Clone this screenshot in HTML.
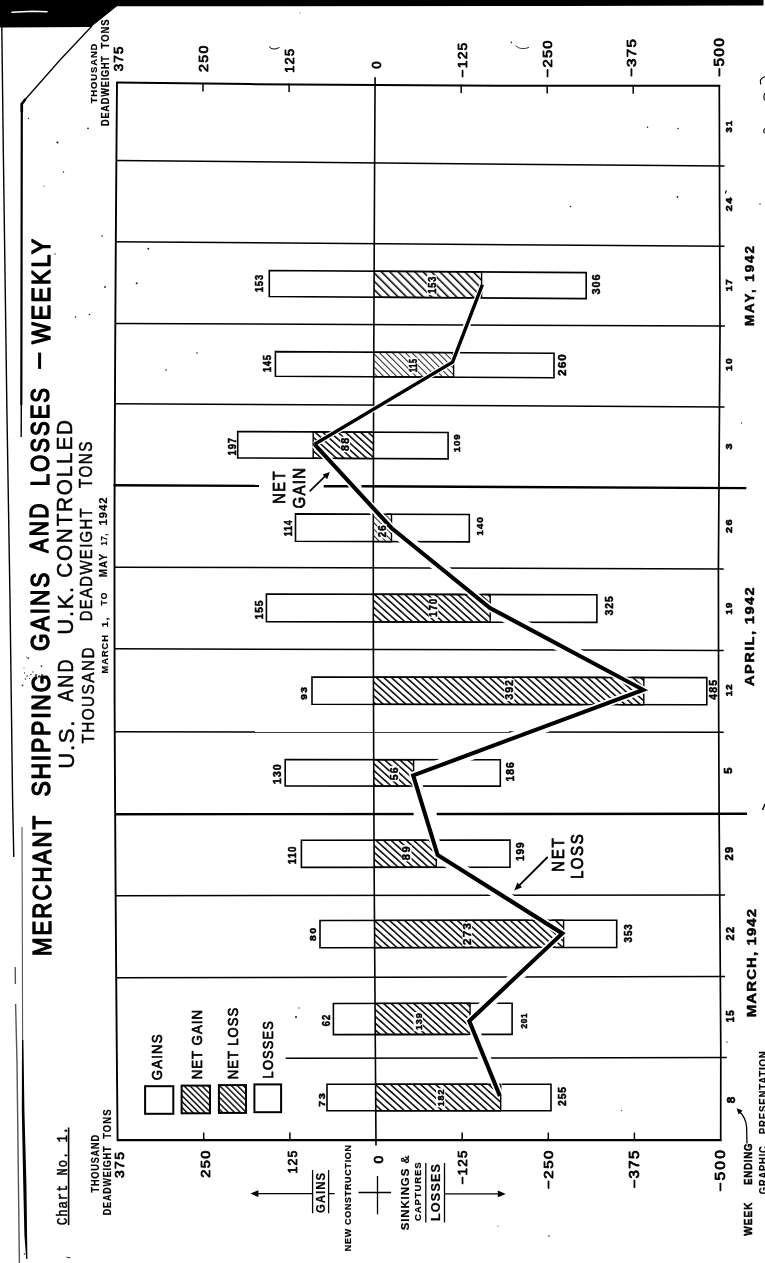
<!DOCTYPE html>
<html lang="en"><head><meta charset="utf-8">
<title>Merchant Shipping Gains and Losses - Weekly</title>
<style>
html,body{margin:0;padding:0;background:#fff;}
body{width:765px;height:1263px;overflow:hidden;}
svg{display:block;}
text{fill:#000;white-space:pre;}
.s{font-family:"Liberation Sans",sans-serif;}
.m{font-family:"Liberation Mono",monospace;}
.b{font-weight:bold;}
</style></head><body>
<svg width="765" height="1263" viewBox="0 0 765 1263">
<defs>
<pattern id="h1" width="5.05" height="8" patternUnits="userSpaceOnUse" patternTransform="rotate(-48)"><rect x="0" y="0" width="1.5" height="8" fill="#000"/></pattern>
<pattern id="h2" width="4.6" height="8" patternUnits="userSpaceOnUse" patternTransform="rotate(-45)"><rect x="0" y="0" width="1" height="8" fill="#222"/></pattern>
<pattern id="h3" width="4.2" height="8" patternUnits="userSpaceOnUse" patternTransform="rotate(-45)"><rect x="0" y="0" width="1.4" height="8" fill="#000"/></pattern>
<pattern id="h4" width="5.9" height="8" patternUnits="userSpaceOnUse" patternTransform="rotate(-45)"><rect x="0" y="0" width="1.5" height="8" fill="#000"/></pattern>
</defs>
<rect x="0" y="0" width="765" height="1263" fill="#fff"/>
<polygon points="0,0 763.5,0 763.5,5.6 560,5.9 117,6.3 91,27 0,27.5" fill="#000"/>
<path d="M12,12.3 L33,11.2 L47,11.8" stroke="#fff" stroke-width="1.6" fill="none" stroke-linecap="round"/>
<path d="M92,26 L60,60 L23,102" stroke="#000" stroke-width="1.3" fill="none"/>
<path d="M25.5,99 L21.8,104 L21.8,112" stroke="#000" stroke-width="2.6" fill="none"/>
<path d="M21.8,103 L21.5,300 L21.3,405" stroke="#000" stroke-width="2.2" fill="none"/>
<path d="M21.3,405 L21.2,437" stroke="#000" stroke-width="1.4" fill="none"/>
<path d="M1.8,27 L3.3,150 L6.9,410 L10,600 L12.6,800 L13.8,857" stroke="#000" stroke-width="1.4" fill="none"/>
<path d="M15.2,967 L15.4,984 M15.6,1004 L17,1063 L19.4,1263" stroke="#555" stroke-width="1.4" fill="none"/>
<path d="M22,827 L22.4,950 L22.6,1040" stroke="#555" stroke-width="1.1" fill="none"/>
<polygon points="22,1040 23.4,1040 24.4,1110 26.4,1183 27.4,1259 26.2,1259 24.4,1235 23.2,1183 21.8,1110" fill="#000"/>
<path d="M66.5,1257.2 L70.5,1257.8" stroke="#333" stroke-width="1" fill="none"/>
<line x1="116.4" y1="160.6" x2="724.5" y2="166.1" stroke="#000" stroke-width="1.5"/>
<line x1="115.8" y1="241.8" x2="724.5" y2="246.3" stroke="#000" stroke-width="1.5"/>
<line x1="115.3" y1="323.4" x2="725" y2="326.1" stroke="#000" stroke-width="1.5"/>
<line x1="114.9" y1="403.8" x2="724.5" y2="407" stroke="#000" stroke-width="1.5"/>
<line x1="114.5" y1="567.2" x2="723.7" y2="569" stroke="#000" stroke-width="1.5"/>
<line x1="114.5" y1="648.8" x2="723.7" y2="650.4" stroke="#000" stroke-width="1.5"/>
<line x1="114.7" y1="731.8" x2="723.7" y2="732.3" stroke="#000" stroke-width="1.5"/>
<line x1="115.1" y1="814.3" x2="747" y2="813.7" stroke="#000" stroke-width="2.4"/>
<line x1="115.6" y1="895.7" x2="725" y2="895" stroke="#000" stroke-width="1.5"/>
<line x1="116.2" y1="977.8" x2="725" y2="976.5" stroke="#000" stroke-width="1.5"/>
<line x1="285.6" y1="1058.2" x2="726.8" y2="1057.6" stroke="#000" stroke-width="1.5"/>
<polygon points="269.3,270.5 586.2,272.6 586.2,298.6 269.3,296.5" fill="#fff" stroke="#000" stroke-width="1.6"/>
<polygon points="275.4,351.6 554,353.2 554,377.8 275.4,376.2" fill="#fff" stroke="#000" stroke-width="1.6"/>
<polygon points="237.7,431.5 448.1,432.5 448.1,458.9 237.7,457.9" fill="#fff" stroke="#000" stroke-width="1.6"/>
<polygon points="295.5,513.9 469.3,514.5 469.3,541.9 295.5,541.3" fill="#fff" stroke="#000" stroke-width="1.6"/>
<polygon points="266.4,594 596.9,594.8 596.9,622.4 266.4,621.6" fill="#fff" stroke="#000" stroke-width="1.6"/>
<polygon points="312,677 706.8,677.6 706.8,704.8 312,704.2" fill="#fff" stroke="#000" stroke-width="1.6"/>
<polygon points="285.2,759.6 500.3,759.7 500.3,786.1 285.2,786" fill="#fff" stroke="#000" stroke-width="1.6"/>
<polygon points="301.4,840.2 510,840 510,867.2 301.4,867.4" fill="#fff" stroke="#000" stroke-width="1.6"/>
<polygon points="320,920.5 616.7,920.2 616.7,947.4 320,947.7" fill="#fff" stroke="#000" stroke-width="1.6"/>
<polygon points="333.4,1003.5 512.1,1003.3 512.1,1034.4 333.4,1034.6" fill="#fff" stroke="#000" stroke-width="1.6"/>
<polygon points="327,1084.3 551,1084.2 551,1110.7 327,1110.8" fill="#fff" stroke="#000" stroke-width="1.6"/>
<polyline points="499.9,1096 469.3,1021 562.3,933.4 437.6,855 413.2,775.4 643.2,689.8 490,608 391.5,528 314.6,444.3" fill="none" stroke="#fff" stroke-width="12.5" stroke-linejoin="round"/>
<rect x="413.6" y="811" width="23.1" height="7" fill="#fff"/>
<polyline points="314.6,444.3 452.6,362.2 482.4,284.7" fill="none" stroke="#fff" stroke-width="7" stroke-linejoin="round"/>
<path d="M117,82.6 L116.3,170.7 L115.7,258.9 L115.2,347 L114.8,435.1 L114.5,523.2 L114.5,611.4 L114.6,699.5 L115,787.6 L115.5,875.7 L116.1,963.9 L116.8,1052 L117.6,1140.1" stroke="#000" stroke-width="1.9" fill="none"/>
<path d="M719.3,85 L719.6,200 L720,330 L719.2,450 L718.4,570 L718.6,700 L719.1,810 L720,930 L720.8,1050 L720.7,1141" stroke="#000" stroke-width="1.7" fill="none" stroke-linejoin="round"/>
<path d="M116.2,82.6 L250,84.1 L376,85.1 L500,85.8 L720.2,85.8" stroke="#000" stroke-width="2" fill="none" stroke-linejoin="round"/>
<line x1="116.7" y1="1140.1" x2="721.4" y2="1140.1" stroke="#000" stroke-width="2.2"/>
<path d="M375.1,77.2 L374.6,166.2 L374.2,255.3 L373.8,344.3 L373.5,433.3 L373.3,522.4 L373.3,611.4 L373.5,700.4 L373.8,789.5 L374.2,878.5 L374.8,967.5 L375.4,1056.6 L376,1145.6" stroke="#000" stroke-width="1.6" fill="none"/>
<line x1="113.6" y1="485.2" x2="259" y2="485.9" stroke="#000" stroke-width="2.4"/>
<line x1="323.7" y1="486.2" x2="349.5" y2="486.3" stroke="#000" stroke-width="2.4"/>
<line x1="361.5" y1="486.3" x2="746.3" y2="488.1" stroke="#000" stroke-width="2.4"/>
<line x1="203" y1="83.1" x2="203" y2="91.6" stroke="#000" stroke-width="1.5"/>
<line x1="203.7" y1="1140" x2="203.7" y2="1132.6" stroke="#000" stroke-width="1.5"/>
<line x1="289.1" y1="83.5" x2="289.1" y2="92" stroke="#000" stroke-width="1.5"/>
<line x1="289.9" y1="1140" x2="289.9" y2="1132.6" stroke="#000" stroke-width="1.5"/>
<line x1="461.2" y1="84.4" x2="461.2" y2="92.9" stroke="#000" stroke-width="1.5"/>
<line x1="462.2" y1="1140" x2="462.2" y2="1132.6" stroke="#000" stroke-width="1.5"/>
<line x1="547.2" y1="84.9" x2="547.2" y2="93.4" stroke="#000" stroke-width="1.5"/>
<line x1="548.3" y1="1140" x2="548.3" y2="1132.6" stroke="#000" stroke-width="1.5"/>
<line x1="633.2" y1="85.3" x2="633.2" y2="93.8" stroke="#000" stroke-width="1.5"/>
<line x1="634.4" y1="1140" x2="634.4" y2="1132.6" stroke="#000" stroke-width="1.5"/>
<polygon points="374,271.2 481.6,271.9 481.6,297.9 374,297.2" fill="url(#h4)" stroke="none"/>
<line x1="481.6" y1="271.9" x2="481.6" y2="297.9" stroke="#000" stroke-width="1.4"/>
<line x1="374" y1="271.2" x2="481.6" y2="271.9" stroke="#000" stroke-width="1.4"/>
<line x1="374" y1="297.2" x2="481.6" y2="297.9" stroke="#000" stroke-width="1.4"/>
<polygon points="373.7,352.1 453.6,352.6 453.6,377.2 373.7,376.7" fill="url(#h2)" stroke="none"/>
<line x1="453.6" y1="352.6" x2="453.6" y2="377.2" stroke="#000" stroke-width="1.4"/>
<line x1="373.7" y1="352.1" x2="453.6" y2="352.6" stroke="#000" stroke-width="1.4"/>
<line x1="373.7" y1="376.7" x2="453.6" y2="377.2" stroke="#000" stroke-width="1.4"/>
<polygon points="313.2,431.9 373.5,432.2 373.5,458.6 313.2,458.3" fill="url(#h1)" stroke="none"/>
<line x1="313.2" y1="431.9" x2="313.2" y2="458.3" stroke="#000" stroke-width="1.4"/>
<line x1="313.2" y1="431.9" x2="373.5" y2="432.2" stroke="#000" stroke-width="1.4"/>
<line x1="313.2" y1="458.3" x2="373.5" y2="458.6" stroke="#000" stroke-width="1.4"/>
<polygon points="373.3,514.2 391.5,514.3 391.5,541.7 373.3,541.6" fill="url(#h2)" stroke="none"/>
<line x1="391.5" y1="514.3" x2="391.5" y2="541.7" stroke="#000" stroke-width="1.4"/>
<line x1="373.3" y1="514.2" x2="391.5" y2="514.3" stroke="#000" stroke-width="1.4"/>
<line x1="373.3" y1="541.6" x2="391.5" y2="541.7" stroke="#000" stroke-width="1.4"/>
<polygon points="373.3,594.2 490.2,594.5 490.2,622.1 373.3,621.8" fill="url(#h1)" stroke="none"/>
<line x1="490.2" y1="594.5" x2="490.2" y2="622.1" stroke="#000" stroke-width="1.4"/>
<line x1="373.3" y1="594.2" x2="490.2" y2="594.5" stroke="#000" stroke-width="1.4"/>
<line x1="373.3" y1="621.8" x2="490.2" y2="622.1" stroke="#000" stroke-width="1.4"/>
<polygon points="373.5,677.1 643.8,677.5 643.8,704.7 373.5,704.3" fill="url(#h1)" stroke="none"/>
<line x1="643.8" y1="677.5" x2="643.8" y2="704.7" stroke="#000" stroke-width="1.4"/>
<line x1="373.5" y1="677.1" x2="643.8" y2="677.5" stroke="#000" stroke-width="1.4"/>
<line x1="373.5" y1="704.3" x2="643.8" y2="704.7" stroke="#000" stroke-width="1.4"/>
<polygon points="373.7,759.7 413.6,759.7 413.6,786.1 373.7,786.1" fill="url(#h1)" stroke="none"/>
<line x1="413.6" y1="759.7" x2="413.6" y2="786.1" stroke="#000" stroke-width="1.4"/>
<line x1="373.7" y1="759.7" x2="413.6" y2="759.7" stroke="#000" stroke-width="1.4"/>
<line x1="373.7" y1="786.1" x2="413.6" y2="786.1" stroke="#000" stroke-width="1.4"/>
<polygon points="374.1,840.1 436.3,840.1 436.3,867.3 374.1,867.3" fill="url(#h1)" stroke="none"/>
<line x1="436.3" y1="840.1" x2="436.3" y2="867.3" stroke="#000" stroke-width="1.4"/>
<line x1="374.1" y1="840.1" x2="436.3" y2="840.1" stroke="#000" stroke-width="1.4"/>
<line x1="374.1" y1="867.3" x2="436.3" y2="867.3" stroke="#000" stroke-width="1.4"/>
<polygon points="374.6,920.4 563.6,920.2 563.6,947.4 374.6,947.6" fill="url(#h1)" stroke="none"/>
<line x1="563.6" y1="920.2" x2="563.6" y2="947.4" stroke="#000" stroke-width="1.4"/>
<line x1="374.6" y1="920.4" x2="563.6" y2="920.2" stroke="#000" stroke-width="1.4"/>
<line x1="374.6" y1="947.6" x2="563.6" y2="947.4" stroke="#000" stroke-width="1.4"/>
<polygon points="375.1,1003.4 470.1,1003.3 470.1,1034.4 375.1,1034.5" fill="url(#h1)" stroke="none"/>
<line x1="470.1" y1="1003.3" x2="470.1" y2="1034.4" stroke="#000" stroke-width="1.4"/>
<line x1="375.1" y1="1003.4" x2="470.1" y2="1003.3" stroke="#000" stroke-width="1.4"/>
<line x1="375.1" y1="1034.5" x2="470.1" y2="1034.4" stroke="#000" stroke-width="1.4"/>
<polygon points="375.7,1084.3 500.7,1084.2 500.7,1110.7 375.7,1110.8" fill="url(#h1)" stroke="none"/>
<line x1="500.7" y1="1084.2" x2="500.7" y2="1110.7" stroke="#000" stroke-width="1.4"/>
<line x1="375.7" y1="1084.3" x2="500.7" y2="1084.2" stroke="#000" stroke-width="1.4"/>
<line x1="375.7" y1="1110.8" x2="500.7" y2="1110.7" stroke="#000" stroke-width="1.4"/>
<polyline points="499.9,1096 469.3,1021 562.3,933.4 437.6,855 413.2,775.4 643.2,689.8 490,608 391.5,528 314.6,444.3" fill="none" stroke="#fff" stroke-width="7.5" stroke-linejoin="miter"/>
<polyline points="314.6,444.3 452.6,362.2 482.4,284.7" fill="none" stroke="#fff" stroke-width="5.5" stroke-linejoin="miter"/>
<polyline points="314.6,444.3 452.6,362.2 482.4,284.7" fill="none" stroke="#000" stroke-width="3.4" stroke-linejoin="miter" stroke-miterlimit="6"/>
<polyline points="499.9,1096 469.3,1021 562.3,933.4 437.6,855 413.2,775.4 643.2,689.8 490,608 391.5,528 314.6,444.3" fill="none" stroke="#000" stroke-width="4.1" stroke-linejoin="miter" stroke-miterlimit="6"/>
<rect x="145.1" y="1086.2" width="28.2" height="27.6" fill="#fff" stroke="#000" stroke-width="2"/>
<rect x="181.6" y="1085.6" width="28.4" height="27.7" fill="url(#h3)" stroke="#000" stroke-width="2"/>
<rect x="218.9" y="1085.1" width="27.1" height="27.8" fill="url(#h3)" stroke="#000" stroke-width="2"/>
<rect x="254.4" y="1084.4" width="26.7" height="27.8" fill="#fff" stroke="#000" stroke-width="2"/>
<text class="s" transform="translate(162.4,1080.2) rotate(-90) scale(0.895,1)" font-size="14.8" textLength="51.2" lengthAdjust="spacing" stroke="#000" stroke-width="0.7" stroke-linejoin="round">GAINS</text>
<text class="s" transform="translate(202.3,1079.3) rotate(-90) scale(0.904,1)" font-size="14.7" textLength="76.7" lengthAdjust="spacing" stroke="#000" stroke-width="0.7" stroke-linejoin="round">NET GAIN</text>
<text class="s" transform="translate(237.8,1079.3) rotate(-90) scale(0.882,1)" font-size="14.8" textLength="81.1" lengthAdjust="spacing" stroke="#000" stroke-width="0.7" stroke-linejoin="round">NET LOSS</text>
<text class="s" transform="translate(273,1078.4) rotate(-90) scale(0.887,1)" font-size="14.5" textLength="64.6" lengthAdjust="spacing" stroke="#000" stroke-width="0.7" stroke-linejoin="round">LOSSES</text>
<text class="s" transform="translate(51.2,956) rotate(-90) scale(0.838,1)" font-size="26.5" textLength="167.1" lengthAdjust="spacing" stroke="#000" stroke-width="1.4" stroke-linejoin="round">MERCHANT</text>
<text class="s" transform="translate(50.2,796.6) rotate(-90) scale(0.867,1)" font-size="26.5" textLength="140.9" lengthAdjust="spacing" stroke="#000" stroke-width="1.4" stroke-linejoin="round">SHIPPING</text>
<text class="s" transform="translate(48.9,650.9) rotate(-90) scale(0.857,1)" font-size="26.4" textLength="91.3" lengthAdjust="spacing" stroke="#000" stroke-width="1.4" stroke-linejoin="round">GAINS</text>
<text class="s" transform="translate(47.6,552.7) rotate(-90) scale(0.807,1)" font-size="26" textLength="60.9" lengthAdjust="spacing" stroke="#000" stroke-width="1.4" stroke-linejoin="round">AND</text>
<text class="s" transform="translate(49.2,486.3) rotate(-90) scale(0.834,1)" font-size="26.5" textLength="118" lengthAdjust="spacing" stroke="#000" stroke-width="1.4" stroke-linejoin="round">LOSSES</text>
<line x1="39.6" y1="352.6" x2="39.6" y2="368.9" stroke="#000" stroke-width="3"/>
<text class="s" transform="translate(50,344) rotate(-90) scale(0.870,1)" font-size="26.5" textLength="120.7" lengthAdjust="spacing" stroke="#000" stroke-width="1.4" stroke-linejoin="round">WEEKLY</text>
<text class="s" transform="translate(74,768.7) rotate(-90) scale(0.986,1)" font-size="22.6" textLength="48.9" lengthAdjust="spacing" stroke="#000" stroke-width="0.5" stroke-linejoin="round">U.S.</text>
<text class="s" transform="translate(73.4,701.8) rotate(-90) scale(0.797,1)" font-size="22.6" textLength="53.1" lengthAdjust="spacing" stroke="#000" stroke-width="0.5" stroke-linejoin="round">AND</text>
<text class="s" transform="translate(72.6,634.7) rotate(-90) scale(0.992,1)" font-size="22.3" textLength="48.3" lengthAdjust="spacing" stroke="#000" stroke-width="0.5" stroke-linejoin="round">U.K.</text>
<text class="s" transform="translate(71.8,577.8) rotate(-90) scale(0.930,1)" font-size="22.3" textLength="169.7" lengthAdjust="spacing" stroke="#000" stroke-width="0.5" stroke-linejoin="round">CONTROLLED</text>
<text class="s" transform="translate(94,743.5) rotate(-90) scale(0.889,1)" font-size="17.3" textLength="108" lengthAdjust="spacing" stroke="#000" stroke-width="0.5" stroke-linejoin="round">THOUSAND</text>
<text class="s" transform="translate(92.4,621.3) rotate(-90) scale(0.867,1)" font-size="17.3" textLength="130.4" lengthAdjust="spacing" stroke="#000" stroke-width="0.5" stroke-linejoin="round">DEADWEIGHT</text>
<text class="s" transform="translate(92,488) rotate(-90) scale(0.869,1)" font-size="17.5" textLength="53.5" lengthAdjust="spacing" stroke="#000" stroke-width="0.5" stroke-linejoin="round">TONS</text>
<text class="s b" transform="translate(107.5,673.4) rotate(-90) scale(0.936,1)" font-size="9.9" textLength="41" lengthAdjust="spacing" stroke="#000" stroke-width="0.2" stroke-linejoin="round">MARCH</text>
<text class="s b" transform="translate(107.5,627.6) rotate(-90) scale(1.099,1)" font-size="9.9" textLength="9.2" lengthAdjust="spacing" stroke="#000" stroke-width="0.2" stroke-linejoin="round">1,</text>
<text class="s b" transform="translate(107.4,605.4) rotate(-90) scale(0.848,1)" font-size="9.9" textLength="15.1" lengthAdjust="spacing" stroke="#000" stroke-width="0.2" stroke-linejoin="round">TO</text>
<text class="s b" transform="translate(107.2,577.2) rotate(-90) scale(0.975,1)" font-size="10.1" textLength="23.8" lengthAdjust="spacing" stroke="#000" stroke-width="0.2" stroke-linejoin="round">MAY</text>
<text class="s b" transform="translate(107,545.5) rotate(-90) scale(0.780,1)" font-size="9.9" textLength="15.3" lengthAdjust="spacing" stroke="#000" stroke-width="0.2" stroke-linejoin="round">17,</text>
<text class="s b" transform="translate(106.8,525.4) rotate(-90) scale(1.118,1)" font-size="10.1" textLength="24.9" lengthAdjust="spacing" stroke="#000" stroke-width="0.2" stroke-linejoin="round">1942</text>
<text class="m" transform="translate(66.6,1225) rotate(-90) scale(0.842,1)" font-size="14.5" textLength="116.4" lengthAdjust="spacing" stroke="#000" stroke-width="0.5" stroke-linejoin="round">Chart No. 1.</text>
<line x1="68.6" y1="1127.5" x2="68.6" y2="1225" stroke="#000" stroke-width="1.6"/>
<text class="s" transform="translate(123.4,71.3) rotate(-90) scale(1.064,1)" font-size="12.6" textLength="23.3" lengthAdjust="spacing" stroke="#000" stroke-width="0.8" stroke-linejoin="round">375</text>
<text class="s" transform="translate(207.6,72) rotate(-90) scale(1.089,1)" font-size="13.1" textLength="24.3" lengthAdjust="spacing" stroke="#000" stroke-width="0.8" stroke-linejoin="round">250</text>
<text class="s" transform="translate(294.4,72.7) rotate(-90) scale(1.021,1)" font-size="12.6" textLength="23.3" lengthAdjust="spacing" stroke="#000" stroke-width="0.8" stroke-linejoin="round">125</text>
<text class="s" transform="translate(381.4,68.8) rotate(-90) scale(0.969,1)" font-size="13.7" textLength="8.5" lengthAdjust="spacing" stroke="#000" stroke-width="0.8" stroke-linejoin="round">0</text>
<text class="s" transform="translate(466.5,77.4) rotate(-90) scale(1.028,1)" font-size="13.4" textLength="33.6" lengthAdjust="spacing" stroke="#000" stroke-width="0.8" stroke-linejoin="round">−125</text>
<text class="s" transform="translate(552.4,77.4) rotate(-90) scale(1.114,1)" font-size="13.3" textLength="33.2" lengthAdjust="spacing" stroke="#000" stroke-width="0.8" stroke-linejoin="round">−250</text>
<text class="s" transform="translate(636.4,77.1) rotate(-90) scale(1.106,1)" font-size="13.7" textLength="34.3" lengthAdjust="spacing" stroke="#000" stroke-width="0.8" stroke-linejoin="round">−375</text>
<text class="s" transform="translate(724,76.9) rotate(-90) scale(1.065,1)" font-size="14.5" textLength="36.4" lengthAdjust="spacing" stroke="#000" stroke-width="0.8" stroke-linejoin="round">−500</text>
<text class="s" transform="translate(123.6,1178) rotate(-90) scale(1.091,1)" font-size="12.8" textLength="23.8" lengthAdjust="spacing" stroke="#000" stroke-width="0.8" stroke-linejoin="round">375</text>
<text class="s" transform="translate(210.2,1177.8) rotate(-90) scale(1.072,1)" font-size="13.7" textLength="25.4" lengthAdjust="spacing" stroke="#000" stroke-width="0.8" stroke-linejoin="round">250</text>
<text class="s" transform="translate(296.6,1173.6) rotate(-90) scale(0.916,1)" font-size="13.5" textLength="25.1" lengthAdjust="spacing" stroke="#000" stroke-width="0.8" stroke-linejoin="round">125</text>
<text class="s" transform="translate(383,1163.4) rotate(-90) scale(1.038,1)" font-size="13.4" textLength="8.3" lengthAdjust="spacing" stroke="#000" stroke-width="0.8" stroke-linejoin="round">0</text>
<text class="s" transform="translate(467.1,1184.5) rotate(-90) scale(1.032,1)" font-size="13.1" textLength="32.9" lengthAdjust="spacing" stroke="#000" stroke-width="0.8" stroke-linejoin="round">−125</text>
<text class="s" transform="translate(553,1189) rotate(-90) scale(1.120,1)" font-size="13.4" textLength="34.3" lengthAdjust="spacing" stroke="#000" stroke-width="0.8" stroke-linejoin="round">−250</text>
<text class="s" transform="translate(639.4,1188.5) rotate(-90) scale(1.063,1)" font-size="14.2" textLength="35.7" lengthAdjust="spacing" stroke="#000" stroke-width="0.8" stroke-linejoin="round">−375</text>
<text class="s" transform="translate(725,1191.8) rotate(-90) scale(1.120,1)" font-size="14" textLength="37.3" lengthAdjust="spacing" stroke="#000" stroke-width="0.8" stroke-linejoin="round">−500</text>
<text class="s b" transform="translate(97.3,103.3) rotate(-90) scale(0.958,1)" font-size="9.9" textLength="62.4" lengthAdjust="spacing" stroke="#000" stroke-width="0.2" stroke-linejoin="round">THOUSAND</text>
<text class="s b" transform="translate(108.9,126) rotate(-90) scale(0.904,1)" font-size="10.2" textLength="77.4" lengthAdjust="spacing" stroke="#000" stroke-width="0.2" stroke-linejoin="round">DEADWEIGHT</text>
<text class="s b" transform="translate(108.9,48.4) rotate(-90) scale(0.921,1)" font-size="10.2" textLength="31.3" lengthAdjust="spacing" stroke="#000" stroke-width="0.2" stroke-linejoin="round">TONS</text>
<text class="s b" transform="translate(98.7,1192.5) rotate(-90) scale(0.896,1)" font-size="10.2" textLength="64.2" lengthAdjust="spacing" stroke="#000" stroke-width="0.2" stroke-linejoin="round">THOUSAND</text>
<text class="s b" transform="translate(111.4,1215.2) rotate(-90) scale(0.874,1)" font-size="10.3" textLength="78.5" lengthAdjust="spacing" stroke="#000" stroke-width="0.2" stroke-linejoin="round">DEADWEIGHT</text>
<text class="s b" transform="translate(111.4,1138.8) rotate(-90) scale(0.925,1)" font-size="10.3" textLength="31.7" lengthAdjust="spacing" stroke="#000" stroke-width="0.2" stroke-linejoin="round">TONS</text>
<text class="s b" transform="translate(731.6,132.5) rotate(-90) scale(0.968,1)" font-size="9.8" textLength="12.1" lengthAdjust="spacing" stroke="#000" stroke-width="0.6" stroke-linejoin="round">31</text>
<text class="s b" transform="translate(731.8,211.2) rotate(-90) scale(1.120,1)" font-size="9.8" textLength="12.1" lengthAdjust="spacing" stroke="#000" stroke-width="0.6" stroke-linejoin="round">24</text>
<text class="s b" transform="translate(732,291.2) rotate(-90) scale(0.985,1)" font-size="9.8" textLength="12.1" lengthAdjust="spacing" stroke="#000" stroke-width="0.6" stroke-linejoin="round">17</text>
<text class="s b" transform="translate(732,371.1) rotate(-90) scale(1.051,1)" font-size="9.8" textLength="12.1" lengthAdjust="spacing" stroke="#000" stroke-width="0.6" stroke-linejoin="round">10</text>
<text class="s b" transform="translate(732,449.6) rotate(-90) scale(1.092,1)" font-size="9.8" textLength="6" lengthAdjust="spacing" stroke="#000" stroke-width="0.6" stroke-linejoin="round">3</text>
<text class="s b" transform="translate(731.8,533) rotate(-90) scale(1.120,1)" font-size="9.8" textLength="12.2" lengthAdjust="spacing" stroke="#000" stroke-width="0.6" stroke-linejoin="round">26</text>
<text class="s b" transform="translate(731.6,614.5) rotate(-90) scale(0.985,1)" font-size="9.8" textLength="12.1" lengthAdjust="spacing" stroke="#000" stroke-width="0.6" stroke-linejoin="round">19</text>
<text class="s b" transform="translate(731.8,696.3) rotate(-90) scale(0.985,1)" font-size="9.8" textLength="12.1" lengthAdjust="spacing" stroke="#000" stroke-width="0.6" stroke-linejoin="round">12</text>
<text class="s b" transform="translate(732.2,773.8) rotate(-90) scale(1.094,1)" font-size="10.1" textLength="6.2" lengthAdjust="spacing" stroke="#000" stroke-width="0.6" stroke-linejoin="round">5</text>
<text class="s b" transform="translate(732.8,860.5) rotate(-90) scale(1.094,1)" font-size="10.1" textLength="12.4" lengthAdjust="spacing" stroke="#000" stroke-width="0.6" stroke-linejoin="round">29</text>
<text class="s b" transform="translate(733.6,940.5) rotate(-90) scale(1.057,1)" font-size="10.3" textLength="12.8" lengthAdjust="spacing" stroke="#000" stroke-width="0.6" stroke-linejoin="round">22</text>
<text class="s b" transform="translate(734,1022.3) rotate(-90) scale(0.957,1)" font-size="10.1" textLength="12.4" lengthAdjust="spacing" stroke="#000" stroke-width="0.6" stroke-linejoin="round">15</text>
<text class="s b" transform="translate(734.6,1103.2) rotate(-90) scale(1.098,1)" font-size="10.6" textLength="6.6" lengthAdjust="spacing" stroke="#000" stroke-width="0.6" stroke-linejoin="round">8</text>
<line x1="726.5" y1="190.5" x2="725.2" y2="193.5" stroke="#000" stroke-width="1.2"/>
<text class="s b" transform="translate(754.2,326) rotate(-90) scale(1.120,1)" font-size="12" textLength="71.4" lengthAdjust="spacing" stroke="#000" stroke-width="0.5" stroke-linejoin="round">MAY, 1942</text>
<text class="s b" transform="translate(753.8,686) rotate(-90) scale(1.120,1)" font-size="13.1" textLength="88.1" lengthAdjust="spacing" stroke="#000" stroke-width="0.5" stroke-linejoin="round">APRIL, 1942</text>
<text class="s b" transform="translate(756.4,1017.2) rotate(-90) scale(1.117,1)" font-size="13.4" textLength="96.9" lengthAdjust="spacing" stroke="#000" stroke-width="0.5" stroke-linejoin="round">MARCH, 1942</text>
<text class="s b" transform="translate(751.8,1235.7) rotate(-90) scale(0.870,1)" font-size="11.5" textLength="38.2" lengthAdjust="spacing" stroke="#000" stroke-width="0.5" stroke-linejoin="round">WEEK</text>
<text class="s b" transform="translate(751.8,1185) rotate(-90) scale(0.839,1)" font-size="11.5" textLength="49.5" lengthAdjust="spacing" stroke="#000" stroke-width="0.5" stroke-linejoin="round">ENDING</text>
<path d="M747,1143.5 L746.6,1127 Q746,1118 739.5,1111.5" stroke="#000" stroke-width="1.3" fill="none"/>
<polygon points="736.6,1108.2 742.6,1110.4 738.6,1114.6" fill="#000"/>
<text class="s b" transform="translate(766.6,1194.2) rotate(-90) scale(0.799,1)" font-size="11.7" textLength="60.1" lengthAdjust="spacing" stroke="#000" stroke-width="0.2" stroke-linejoin="round">GRAPHIC</text>
<text class="s b" transform="translate(766.6,1134.2) rotate(-90) scale(0.828,1)" font-size="11.7" textLength="100.2" lengthAdjust="spacing" stroke="#000" stroke-width="0.2" stroke-linejoin="round">PRESENTATION</text>
<text class="s b" transform="translate(325.2,1213) rotate(-90) scale(0.946,1)" font-size="12" textLength="42.3" lengthAdjust="spacing" stroke="#000" stroke-width="0.2" stroke-linejoin="round">GAINS</text>
<line x1="312.6" y1="1170" x2="312.6" y2="1213.3" stroke="#000" stroke-width="1.3"/>
<line x1="328.6" y1="1170" x2="328.6" y2="1213.3" stroke="#000" stroke-width="1.3"/>
<line x1="254" y1="1193.6" x2="312.6" y2="1193.6" stroke="#000" stroke-width="1.3"/>
<line x1="328.6" y1="1193.6" x2="334.6" y2="1193.6" stroke="#000" stroke-width="1.3"/>
<polygon points="250.4,1193.6 258.4,1190.2 258.4,1197" fill="#000"/>
<text class="s b" transform="translate(351.1,1251.2) rotate(-90) scale(0.930,1)" font-size="9.6" textLength="114.2" lengthAdjust="spacing" stroke="#000" stroke-width="0.2" stroke-linejoin="round">NEW CONSTRUCTION</text>
<line x1="377.5" y1="1176" x2="377.5" y2="1214.3" stroke="#000" stroke-width="1.3"/>
<line x1="358.5" y1="1192.5" x2="391.1" y2="1192.5" stroke="#000" stroke-width="1.3"/>
<text class="s b" transform="translate(409.3,1230.3) rotate(-90) scale(1.120,1)" font-size="10.2" textLength="66.8" lengthAdjust="spacing" stroke="#000" stroke-width="0.2" stroke-linejoin="round">SINKINGS &amp;</text>
<text class="s b" transform="translate(421,1221) rotate(-90) scale(0.969,1)" font-size="9.9" textLength="60.6" lengthAdjust="spacing" stroke="#000" stroke-width="0.2" stroke-linejoin="round">CAPTURES</text>
<text class="s b" transform="translate(440,1221) rotate(-90) scale(0.995,1)" font-size="12.7" textLength="57.3" lengthAdjust="spacing" stroke="#000" stroke-width="0.2" stroke-linejoin="round">LOSSES</text>
<line x1="425.8" y1="1163" x2="425.8" y2="1222.5" stroke="#000" stroke-width="1.3"/>
<line x1="444.5" y1="1163" x2="444.5" y2="1222.5" stroke="#000" stroke-width="1.3"/>
<line x1="444.5" y1="1193.9" x2="502" y2="1193.9" stroke="#000" stroke-width="1.3"/>
<polygon points="505.8,1193.9 497.8,1190.5 497.8,1197.3" fill="#000"/>
<text class="s" transform="translate(284.7,503.7) rotate(-90) scale(0.867,1)" font-size="16.8" textLength="37.2" lengthAdjust="spacing" stroke="#000" stroke-width="0.8" stroke-linejoin="round">NET</text>
<text class="s" transform="translate(304.8,508.4) rotate(-90) scale(0.892,1)" font-size="16.8" textLength="45.5" lengthAdjust="spacing" stroke="#000" stroke-width="0.8" stroke-linejoin="round">GAIN</text>
<line x1="309.6" y1="491.4" x2="327" y2="474.4" stroke="#000" stroke-width="1.7"/>
<polygon points="329.8,472.0 327.2,479.2 322.6,474.6" fill="#000"/>
<text class="s" transform="translate(564,872) rotate(-90) scale(0.923,1)" font-size="16.5" textLength="36.6" lengthAdjust="spacing" stroke="#000" stroke-width="0.8" stroke-linejoin="round">NET</text>
<text class="s" transform="translate(582.6,879) rotate(-90) scale(0.885,1)" font-size="17" textLength="50.5" lengthAdjust="spacing" stroke="#000" stroke-width="0.8" stroke-linejoin="round">LOSS</text>
<line x1="547.7" y1="857" x2="516.8" y2="887.8" stroke="#000" stroke-width="1.8"/>
<polygon points="514.2,890.4 517.4,882.6 522.0,887.2" fill="#000"/>
<text class="s b" transform="translate(263.4,292.2) rotate(-90) scale(0.857,1)" font-size="10.9" textLength="20.2" lengthAdjust="spacing" stroke="#000" stroke-width="0.5" stroke-linejoin="round">153</text>
<text class="s b" transform="translate(600.2,294.5) rotate(-90) scale(0.947,1)" font-size="11.5" textLength="21.2" lengthAdjust="spacing" stroke="#000" stroke-width="0.5" stroke-linejoin="round">306</text>
<rect x="426.8" y="275.3" width="9.8" height="19.6" fill="#fff"/>
<text class="s b" transform="translate(435.5,293.7) rotate(-90) scale(0.874,1)" font-size="10.6" textLength="19.7" lengthAdjust="spacing" stroke="#000" stroke-width="0.5" stroke-linejoin="round">153</text>
<text class="s b" transform="translate(271.3,372.2) rotate(-90) scale(0.868,1)" font-size="10.8" textLength="19.9" lengthAdjust="spacing" stroke="#000" stroke-width="0.5" stroke-linejoin="round">145</text>
<text class="s b" transform="translate(565.8,376) rotate(-90) scale(1.031,1)" font-size="11.5" textLength="21.2" lengthAdjust="spacing" stroke="#000" stroke-width="0.5" stroke-linejoin="round">260</text>
<rect x="408.4" y="357.6" width="9.4" height="15.9" fill="#fff"/>
<text class="s b" transform="translate(416.7,372.3) rotate(-90) scale(0.780,1)" font-size="10.1" textLength="17.3" lengthAdjust="spacing" stroke="#000" stroke-width="0.5" stroke-linejoin="round">115</text>
<text class="s b" transform="translate(236.3,455.4) rotate(-90) scale(0.933,1)" font-size="10.1" textLength="18.6" lengthAdjust="spacing" stroke="#000" stroke-width="0.5" stroke-linejoin="round">197</text>
<text class="s b" transform="translate(459.8,452.3) rotate(-90) scale(0.993,1)" font-size="9.8" textLength="18.1" lengthAdjust="spacing" stroke="#000" stroke-width="0.5" stroke-linejoin="round">109</text>
<rect x="340.3" y="436.6" width="9.6" height="15.6" fill="#fff"/>
<text class="s b" transform="translate(348.8,451) rotate(-90) scale(1.033,1)" font-size="10.3" textLength="12.8" lengthAdjust="spacing" stroke="#000" stroke-width="0.5" stroke-linejoin="round">88</text>
<text class="s b" transform="translate(292.4,536.2) rotate(-90) scale(0.864,1)" font-size="10.2" textLength="18.3" lengthAdjust="spacing" stroke="#000" stroke-width="0.5" stroke-linejoin="round">114</text>
<text class="s b" transform="translate(482.9,535.7) rotate(-90) scale(1.006,1)" font-size="9.9" textLength="18.4" lengthAdjust="spacing" stroke="#000" stroke-width="0.5" stroke-linejoin="round">140</text>
<rect x="377.3" y="524.1" width="9.4" height="14.3" fill="#fff"/>
<text class="s b" transform="translate(385.6,537.2) rotate(-90) scale(0.957,1)" font-size="10.1" textLength="12.4" lengthAdjust="spacing" stroke="#000" stroke-width="0.5" stroke-linejoin="round">26</text>
<text class="s b" transform="translate(262.6,619.5) rotate(-90) scale(0.917,1)" font-size="11.2" textLength="20.7" lengthAdjust="spacing" stroke="#000" stroke-width="0.5" stroke-linejoin="round">155</text>
<text class="s b" transform="translate(612.6,615.6) rotate(-90) scale(0.932,1)" font-size="11.2" textLength="20.7" lengthAdjust="spacing" stroke="#000" stroke-width="0.5" stroke-linejoin="round">325</text>
<rect x="428.7" y="597.6" width="9.6" height="20.5" fill="#fff"/>
<text class="s b" transform="translate(437.2,616.9) rotate(-90) scale(0.945,1)" font-size="10.3" textLength="19.2" lengthAdjust="spacing" stroke="#000" stroke-width="0.5" stroke-linejoin="round">170</text>
<text class="s b" transform="translate(307,699.7) rotate(-90) scale(1.036,1)" font-size="9.9" textLength="12.3" lengthAdjust="spacing" stroke="#000" stroke-width="0.5" stroke-linejoin="round">93</text>
<text class="s b" transform="translate(717.2,699.7) rotate(-90) scale(1.028,1)" font-size="10.3" textLength="19.2" lengthAdjust="spacing" stroke="#000" stroke-width="0.5" stroke-linejoin="round">485</text>
<rect x="504.2" y="678.8" width="10.2" height="22.1" fill="#fff"/>
<text class="s b" transform="translate(513.3,699.7) rotate(-90) scale(0.951,1)" font-size="11.2" textLength="20.7" lengthAdjust="spacing" stroke="#000" stroke-width="0.5" stroke-linejoin="round">392</text>
<text class="s b" transform="translate(280.7,784.2) rotate(-90) scale(1.008,1)" font-size="10.8" textLength="19.9" lengthAdjust="spacing" stroke="#000" stroke-width="0.5" stroke-linejoin="round">130</text>
<text class="s b" transform="translate(514.2,781.4) rotate(-90) scale(1.025,1)" font-size="10.1" textLength="18.6" lengthAdjust="spacing" stroke="#000" stroke-width="0.5" stroke-linejoin="round">186</text>
<rect x="389.7" y="766.1" width="9.4" height="15.4" fill="#fff"/>
<text class="s b" transform="translate(398,780.3) rotate(-90) scale(1.046,1)" font-size="10.1" textLength="12.4" lengthAdjust="spacing" stroke="#000" stroke-width="0.5" stroke-linejoin="round">56</text>
<text class="s b" transform="translate(295.7,864.2) rotate(-90) scale(0.943,1)" font-size="10.5" textLength="18.8" lengthAdjust="spacing" stroke="#000" stroke-width="0.5" stroke-linejoin="round">110</text>
<text class="s b" transform="translate(524.4,861) rotate(-90) scale(0.950,1)" font-size="10.6" textLength="19.7" lengthAdjust="spacing" stroke="#000" stroke-width="0.5" stroke-linejoin="round">199</text>
<rect x="401.7" y="845.2" width="9.8" height="16.2" fill="#fff"/>
<text class="s b" transform="translate(410.4,860.2) rotate(-90) scale(1.052,1)" font-size="10.6" textLength="13.1" lengthAdjust="spacing" stroke="#000" stroke-width="0.5" stroke-linejoin="round">89</text>
<text class="s b" transform="translate(316.2,940.9) rotate(-90) scale(1.076,1)" font-size="9.8" textLength="12.1" lengthAdjust="spacing" stroke="#000" stroke-width="0.5" stroke-linejoin="round">80</text>
<text class="s b" transform="translate(631.8,942.4) rotate(-90) scale(0.958,1)" font-size="10.2" textLength="18.9" lengthAdjust="spacing" stroke="#000" stroke-width="0.5" stroke-linejoin="round">353</text>
<rect x="462.5" y="921.9" width="9.6" height="24.2" fill="#fff"/>
<text class="s b" transform="translate(471,944.9) rotate(-90) scale(1.120,1)" font-size="10.3" textLength="19.5" lengthAdjust="spacing" stroke="#000" stroke-width="0.5" stroke-linejoin="round">273</text>
<text class="s b" transform="translate(330.4,1026.2) rotate(-90) scale(0.925,1)" font-size="10.1" textLength="12.4" lengthAdjust="spacing" stroke="#000" stroke-width="0.5" stroke-linejoin="round">62</text>
<text class="s b" transform="translate(527,1028.5) rotate(-90) scale(0.839,1)" font-size="9.8" textLength="18.1" lengthAdjust="spacing" stroke="#000" stroke-width="0.5" stroke-linejoin="round">201</text>
<rect x="413.5" y="1012.1" width="9.2" height="19.1" fill="#fff"/>
<text class="s b" transform="translate(421.6,1030) rotate(-90) scale(0.921,1)" font-size="9.8" textLength="18.1" lengthAdjust="spacing" stroke="#000" stroke-width="0.5" stroke-linejoin="round">139</text>
<text class="s b" transform="translate(324.8,1106.7) rotate(-90) scale(1.109,1)" font-size="9.8" textLength="12.1" lengthAdjust="spacing" stroke="#000" stroke-width="0.5" stroke-linejoin="round">73</text>
<text class="s b" transform="translate(566,1105.9) rotate(-90) scale(1.008,1)" font-size="10.1" textLength="18.6" lengthAdjust="spacing" stroke="#000" stroke-width="0.5" stroke-linejoin="round">255</text>
<rect x="436.1" y="1088.3" width="9.2" height="19.1" fill="#fff"/>
<text class="s b" transform="translate(444.2,1106.2) rotate(-90) scale(0.921,1)" font-size="9.8" textLength="18.1" lengthAdjust="spacing" stroke="#000" stroke-width="0.5" stroke-linejoin="round">182</text>
<circle cx="57.5" cy="142.5" r="1.1" fill="#222"/>
<circle cx="28.5" cy="118.5" r="0.7" fill="#222"/>
<circle cx="88" cy="128.3" r="0.9" fill="#222"/>
<circle cx="148.3" cy="248.8" r="1" fill="#222"/>
<circle cx="136.7" cy="283.3" r="1" fill="#222"/>
<circle cx="105" cy="287" r="0.9" fill="#222"/>
<circle cx="197" cy="353" r="0.8" fill="#222"/>
<circle cx="166" cy="370" r="0.8" fill="#222"/>
<circle cx="75.5" cy="317" r="0.8" fill="#222"/>
<circle cx="89.5" cy="314.5" r="0.8" fill="#222"/>
<circle cx="296" cy="1017" r="1.1" fill="#222"/>
<circle cx="299" cy="1008" r="0.7" fill="#222"/>
<circle cx="678" cy="128.5" r="0.8" fill="#222"/>
<circle cx="647.5" cy="127.3" r="0.8" fill="#222"/>
<circle cx="570.5" cy="206.5" r="0.8" fill="#222"/>
<circle cx="677.5" cy="197" r="0.9" fill="#222"/>
<circle cx="55" cy="254" r="0.7" fill="#222"/>
<circle cx="102" cy="236" r="0.8" fill="#222"/>
<circle cx="63.5" cy="172" r="0.7" fill="#222"/>
<circle cx="44" cy="186" r="0.6" fill="#222"/>
<circle cx="603" cy="678.6" r="0.7" fill="#222"/>
<circle cx="727" cy="1042" r="0.7" fill="#222"/>
<circle cx="549" cy="1236" r="0.8" fill="#222"/>
<circle cx="498" cy="1226" r="0.6" fill="#222"/>
<circle cx="621.5" cy="1110.5" r="0.6" fill="#222"/>
<circle cx="24.5" cy="1254" r="0.8" fill="#222"/>
<circle cx="741.5" cy="423" r="0.7" fill="#222"/>
<circle cx="760" cy="204" r="0.7" fill="#222"/>
<circle cx="300" cy="13" r="0.5" fill="#222"/>
<circle cx="28.3" cy="658.2" r="0.9" fill="#333"/>
<circle cx="41.4" cy="666.1" r="0.9" fill="#333"/>
<circle cx="24.5" cy="673" r="0.7" fill="#333"/>
<circle cx="27" cy="676" r="0.8" fill="#333"/>
<circle cx="31" cy="674.5" r="0.7" fill="#333"/>
<circle cx="25.5" cy="679" r="0.8" fill="#333"/>
<circle cx="29.5" cy="678.5" r="0.6" fill="#333"/>
<circle cx="22.5" cy="685.4" r="0.9" fill="#333"/>
<circle cx="33" cy="672" r="0.7" fill="#333"/>
<circle cx="36" cy="675" r="1.1" fill="#333"/>
<circle cx="39" cy="676.5" r="1.2" fill="#333"/>
<circle cx="42" cy="675" r="1" fill="#333"/>
<circle cx="24" cy="668" r="0.5" fill="#333"/>
<circle cx="33" cy="681" r="0.5" fill="#333"/>
<circle cx="26.5" cy="657" r="0.5" fill="#333"/>
<path d="M269,46.5 Q272.5,51 279.5,47.5" stroke="#000" stroke-width="1" fill="none"/>
<path d="M515.6,45.8 Q521,50.6 529,47.4" stroke="#333" stroke-width="1" fill="none"/>
<circle cx="511.4" cy="42.4" r="0.8" fill="#222"/>
<path d="M765,76.8 Q758.6,78.5 761,84.6 M765,93 Q763,96.5 764.6,100.4 M765,128.4 Q762.6,130.6 764.6,133.2" stroke="#000" stroke-width="1.1" fill="none"/>
<path d="M765,804 L762.5,810" stroke="#000" stroke-width="1.4" fill="none"/>
</svg>
</body></html>
